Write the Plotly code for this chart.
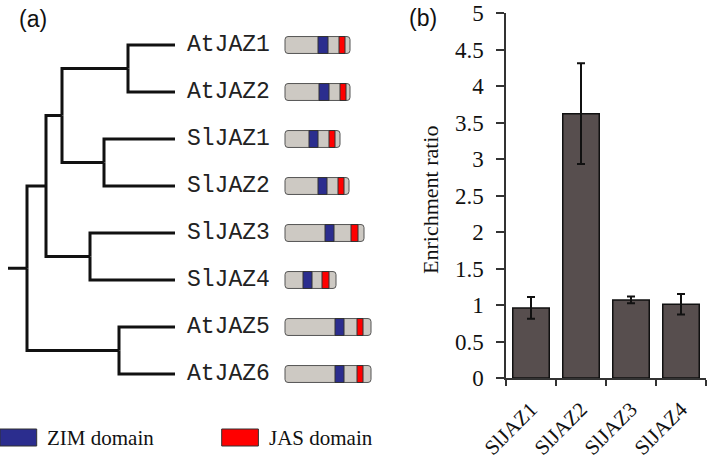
import plotly.graph_objects as go

W, H = 709, 463

# ---------------- data: panel (b) ----------------
bar_cats = ["SlJAZ1", "SlJAZ2", "SlJAZ3", "SlJAZ4"]
bar_vals = [0.96, 3.62, 1.07, 1.01]
bar_err = [0.15, 0.69, 0.045, 0.14]
y_ticks = [0, 0.5, 1, 1.5, 2, 2.5, 3, 3.5, 4, 4.5, 5]

# ---------------- data: panel (a) tree ----------------
leaves = ["AtJAZ1", "AtJAZ2", "SlJAZ1", "SlJAZ2", "SlJAZ3", "SlJAZ4", "AtJAZ5", "AtJAZ6"]
node_ids = ["root", "A", "B", "At12", "Sl12", "Sl34", "At56"] + leaves
node_parent = [None, "root", "A", "B", "B", "A", "root",
               "At12", "At12", "Sl12", "Sl12", "Sl34", "Sl34", "At56", "At56"]
branch_len = [19, 19, 16, 66, 42, 44, 92, 47, 47, 71, 71, 85, 85, 56, 56]

# protein domain architecture (relative units)
prot_len = [65, 65, 55, 64, 79, 51, 86, 86]
zim_start = [33, 34, 24, 33, 40, 18, 50, 50]
zim_end = [43, 44, 33, 42, 49, 27, 59, 59]
jas_start = [54, 55, 44, 53, 66, 37, 72, 72]
jas_end = [60, 61, 50, 59, 73, 44, 78, 78]

legend_labels = ["ZIM domain", "JAS domain"]

# ---------------- colours / fonts ----------------
BAR_COL = "#574e4e"
BOX_COL = "#cdc9c3"
ZIM_COL = "#2b2d8e"
JAS_COL = "#ff0000"
SERIF = "Liberation Serif, Times New Roman, serif"
MONO = "Courier New, Liberation Mono, monospace"
SANS = "Liberation Sans, Arial, sans-serif"

# ---------------- tree geometry ----------------
parent = dict(zip(node_ids, node_parent))
blen = dict(zip(node_ids, branch_len))
children = {n: [] for n in node_ids}
for n, p in zip(node_ids, node_parent):
    if p is not None:
        children[p].append(n)

depth = {}
def get_depth(n):
    if n in depth:
        return depth[n]
    p = parent[n]
    d = blen[n] + (get_depth(p) if p is not None else 0)
    depth[n] = d
    return d
for n in node_ids:
    get_depth(n)

ypos = {}
def get_y(n):
    if n in ypos:
        return ypos[n]
    if n in leaves:
        ypos[n] = leaves.index(n)
    else:
        cy = [get_y(c) for c in children[n]]
        ypos[n] = (min(cy) + max(cy)) / 2
    return ypos[n]
for n in node_ids:
    get_y(n)

tx, ty = [], []
# root stub
tx += [0, depth["root"], None]
ty += [ypos["root"], ypos["root"], None]
for n in node_ids:
    p = parent[n]
    if p is None:
        continue
    tx += [depth[p], depth[p], depth[n], None]
    ty += [ypos[p], ypos[n], ypos[n], None]

fig = go.Figure()

fig.add_trace(go.Scatter(
    x=tx, y=ty, mode="lines", xaxis="x2", yaxis="y2",
    line=dict(color="#111111", width=3), hoverinfo="skip", showlegend=False,
))

# bar chart
fig.add_trace(go.Bar(
    x=bar_cats, y=bar_vals, xaxis="x", yaxis="y",
    marker=dict(color=BAR_COL, line=dict(color="#111111", width=1.5)),
    error_y=dict(type="data", array=bar_err, visible=True,
                 color="#111111", thickness=2, width=4),
    showlegend=False,
))

shapes = []
annotations = []

# domain diagrams
BOX_X0 = 277
HH = 0.18
RX, RY = 3, 0.065

def rrect(x0, x1, yc):
    a, b = yc - HH, yc + HH
    return (f"M {x0+RX},{a} L {x1-RX},{a} Q {x1},{a} {x1},{a+RY} "
            f"L {x1},{b-RY} Q {x1},{b} {x1-RX},{b} L {x0+RX},{b} "
            f"Q {x0},{b} {x0},{b-RY} L {x0},{a+RY} Q {x0},{a} {x0+RX},{a} Z")

for i, name in enumerate(leaves):
    yc = ypos[name]
    shapes.append(dict(type="path", xref="x2", yref="y2",
                       path=rrect(BOX_X0, BOX_X0 + prot_len[i], yc),
                       fillcolor=BOX_COL, line=dict(color="#555555", width=1)))
    shapes.append(dict(type="rect", xref="x2", yref="y2",
                       x0=BOX_X0 + zim_start[i], x1=BOX_X0 + zim_end[i],
                       y0=yc - HH, y1=yc + HH,
                       fillcolor=ZIM_COL, line=dict(color="#333333", width=1)))
    shapes.append(dict(type="rect", xref="x2", yref="y2",
                       x0=BOX_X0 + jas_start[i], x1=BOX_X0 + jas_end[i],
                       y0=yc - HH, y1=yc + HH,
                       fillcolor=JAS_COL, line=dict(color="#333333", width=1)))
    annotations.append(dict(xref="x2", yref="y2", x=depth[name] + 10, y=yc,
                            text=name, showarrow=False, xanchor="left", yanchor="middle",
                            font=dict(family=MONO, size=23, color="#222222")))

# legend swatches
leg_cols = [ZIM_COL, JAS_COL]
leg_x = [0, 221.7]
for lab, col, lx in zip(legend_labels, leg_cols, leg_x):
    shapes.append(dict(type="rect", xref="paper", yref="paper",
                       x0=lx / W, x1=(lx + 36.7) / W,
                       y0=1 - 446 / H, y1=1 - 429 / H,
                       fillcolor=col, line=dict(color="#333333", width=1)))
    annotations.append(dict(xref="paper", yref="paper", x=(lx + 45) / W, y=1 - 437.5 / H,
                            text=lab, showarrow=False, xanchor="left", yanchor="middle",
                            font=dict(family=SERIF, size=21, color="#111111")))

# panel labels
annotations.append(dict(xref="paper", yref="paper", x=33 / W, y=1 - 19 / H, text="(a)",
                        showarrow=False, xanchor="center", yanchor="middle",
                        font=dict(family=SANS, size=23, color="#111111")))
annotations.append(dict(xref="paper", yref="paper", x=422.5 / W, y=1 - 18 / H, text="(b)",
                        showarrow=False, xanchor="center", yanchor="middle",
                        font=dict(family=SANS, size=23, color="#111111")))
# y-axis title
annotations.append(dict(xref="paper", yref="paper", x=430 / W, y=1 - 200 / H,
                        text="Enrichment ratio", textangle=-90, showarrow=False,
                        xanchor="center", yanchor="middle",
                        font=dict(family=SERIF, size=22, color="#111111")))

fig.update_layout(
    width=W, height=H,
    margin=dict(l=0, r=0, t=0, b=0, autoexpand=False),
    paper_bgcolor="white", plot_bgcolor="white",
    bargap=0.27,
    shapes=shapes, annotations=annotations,
    xaxis=dict(domain=[506 / W, 706 / W], anchor="y", automargin=False,
               showline=True, linecolor="#333333", linewidth=1.5,
               ticks="outside", ticklen=6, tickwidth=1.5, tickcolor="#333333",
               tickson="boundaries", tickangle=-45, ticklabelstandoff=9,
               tickfont=dict(family=SERIF, size=21, color="#111111"),
               showgrid=False, zeroline=False, fixedrange=True),
    yaxis=dict(domain=[1 - 378 / H, 1 - 13 / H], anchor="x", range=[0, 5],
               tickvals=y_ticks, automargin=False,
               showline=True, linecolor="#333333", linewidth=1.5,
               ticks="outside", ticklen=8, tickwidth=1.5, tickcolor="#333333",
               ticklabelstandoff=8,
               tickfont=dict(family=SERIF, size=23, color="#111111"),
               showgrid=False, zeroline=False, fixedrange=True),
    xaxis2=dict(domain=[0, 380 / W], anchor="y2", range=[-8, 372],
                visible=False, fixedrange=True, automargin=False),
    yaxis2=dict(domain=[0, 1], anchor="x2", range=[(H - 45) / 47, -45 / 47],
                visible=False, fixedrange=True, automargin=False),
)

fig.write_html("out.html", config={"displayModeBar": False},
               post_script="document.body.style.margin='0';document.body.style.overflow='hidden';")
